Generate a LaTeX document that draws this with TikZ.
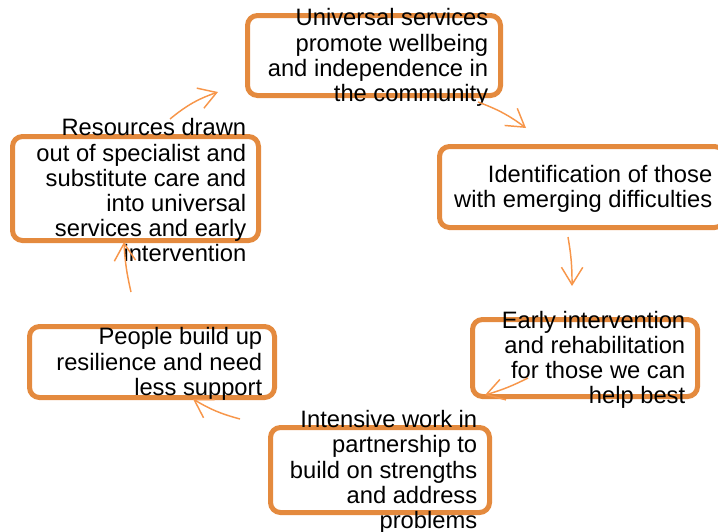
\documentclass[tikz,border=0pt]{standalone}
\usepackage{fontspec}
\setmainfont{Liberation Sans}
\usetikzlibrary{arrows.meta,calc}
\definecolor{boxorange}{HTML}{E48A3E}
\definecolor{arroworange}{HTML}{F7964A}

\begin{document}
\begin{tikzpicture}[
  x=0.75pt,y=-0.75pt,
  >={Straight Barb[length=13pt,width=16pt]},
  font=\fontsize{17.8}{18.9}\selectfont,
  frame/.style={draw=boxorange,line width=3.75pt,rounded corners=7.5pt,
    inner sep=0pt,outer sep=0pt},
  txt/.style={inner sep=0pt,align=right,anchor=east},
  arr/.style={->,draw=arroworange,line width=1.1pt}
]
\useasboundingbox (0,0) rectangle (718,532);
% frames
\node[frame,minimum width=189.75pt,minimum height=60pt] (U) at (374,55.5) {};
\node[frame,minimum width=213.75pt,minimum height=60.75pt] (I) at (582,187) {};
\node[frame,minimum width=168.75pt,minimum height=57.75pt] (E) at (585,358) {};
\node[frame,minimum width=164.25pt,minimum height=63.75pt] (W) at (380,470) {};
\node[frame,minimum width=183.75pt,minimum height=53.25pt] (P) at (152,362) {};
\node[frame,minimum width=184.5pt,minimum height=78pt] (R) at (135.5,188.5) {};
% texts
\node[txt] (Ut) at ($(U.east)+(-12,2)$)
 {Universal services\\promote wellbeing\\and independence in\\the community};
\node[txt] (It) at ($(I.east)+(-12,2)$)
 {Identification of those\\with emerging difficulties};
\node[txt] (Et) at ($(E.east)+(-12,2)$)
 {Early intervention\\and rehabilitation\\for those we can\\help best};
\node[txt] (Wt) at ($(W.east)+(-12,2)$)
 {Intensive work in\\partnership to\\build on strengths\\and address\\problems};
\node[txt] (Pt) at ($(P.east)+(-12,2)$)
 {People build up\\resilience and need\\less support};
\node[txt] (Rt) at ($(R.east)+(-12,2)$)
 {Resources drawn\\out of specialist and\\substitute care and\\into universal\\services and early\\intervention};
% cycle arrows
\draw[arr] ($(U.south east)+(-22.5,6.5)$) to[bend left=8] ($(I.north west)+(86.5,-18.5)$);
\draw[arr] ($(I.south)+(-14,9.5)$) to[bend left=5] ($(E.north)+(-13,-33.5)$);
\draw[arr] ($(E.south west)+(55.5,-18.5)$) to[bend left=5] ($(W.north east)+(-4.5,-32.5)$);
\draw[arr] ($(W.north west)+(-30.5,-8.5)$) to[bend left=8] ($(P.south)+(41,1.5)$);
\draw[arr] ($(P.north)+(-21,-34.5)$) to[bend left=5] ($(R.south)+(-11.5,1.5)$);
\draw[arr] ($(R.north)+(34.5,-17.5)$) to[bend left=10] ($(U.west)+(-29.5,36.5)$);
\end{tikzpicture}
\end{document}
